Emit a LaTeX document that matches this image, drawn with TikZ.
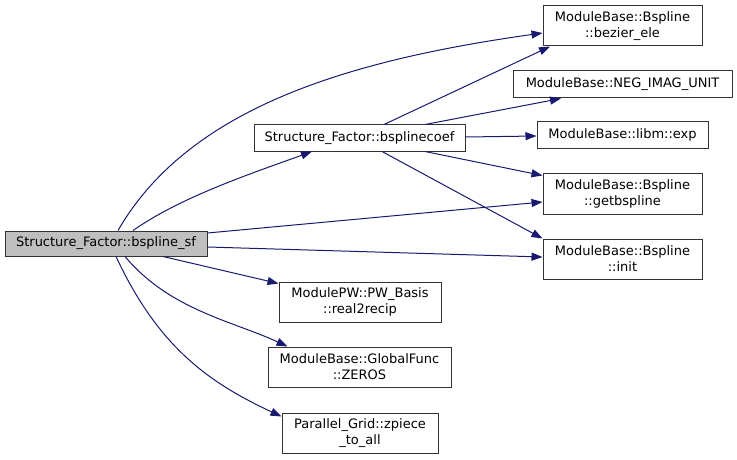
\documentclass[tikz,border=0pt]{standalone}
\usepackage{fontspec}
\setmainfont{DejaVu Sans}
\usetikzlibrary{arrows.meta}
\definecolor{navyline}{HTML}{191970}

\begin{document}
\begin{tikzpicture}[x=1pt, y=1pt,
		fn/.style={draw=black!80, line width=1pt, inner sep=0pt, align=center, font=\fontsize{13}{16}\selectfont},
		root/.style={fn, fill=black!25},
		call/.style={draw=navyline, line width=1pt, -{Triangle[length=11pt,width=8pt]}}]
			%%%%% START %%%%%
			\useasboundingbox (0, 0) rectangle (737, 459);
			
			\node[root, minimum width=202, minimum height=25] (sf) at (106, 215.5) {Structure\_Factor::bspline\_sf};
			\node[fn, minimum width=211, minimum height=26] (coef) at (359.5, 321) {Structure\_Factor::bsplinecoef};
			
			\node[fn, minimum width=159, minimum height=40] (bez) at (622.5, 433) {ModuleBase::Bspline\\::bezier\_ele};
			\node[fn, minimum width=219, minimum height=27] (neg) at (622.5, 374.5) {ModuleBase::NEG\_IMAG\_UNIT};
			\node[fn, minimum width=171, minimum height=26] (exp) at (622.5, 324) {ModuleBase::libm::exp};
			\node[fn, minimum width=159, minimum height=41] (getb) at (622.5, 265.5) {ModuleBase::Bspline\\::getbspline};
			\node[fn, minimum width=159, minimum height=40] (init) at (622.5, 200) {ModuleBase::Bspline\\::init};
			
			\node[fn, minimum width=162, minimum height=40] (r2r) at (360, 157) {ModulePW::PW\_Basis\\::real2recip};
			\node[fn, minimum width=183, minimum height=40] (zeros) at (359.5, 92) {ModuleBase::GlobalFunc\\::ZEROS};
			\node[fn, minimum width=156, minimum height=40] (zpiece) at (360, 26) {Parallel\_Grid::zpiece\\\_to\_all};
			
			% calls of bspline_sf
			\draw[call] ([xshift=12pt]sf.north) .. controls +(60:140) and +(188:200) .. ([yshift=-7pt]bez.west);
			\draw[call] ([xshift=27pt]sf.north) .. controls +(35:60) and +(200:60) .. ([xshift=-47.5pt]coef.south);
			\draw[call] ([yshift=10.5pt]sf.east) -- ([yshift=-8.5pt]getb.west);
			\draw[call] ([yshift=-3.5pt]sf.east) -- ([yshift=2pt]init.west);
			\draw[call] ([xshift=57pt]sf.south) -- ([yshift=-2pt]r2r.north west);
			\draw[call] ([xshift=19pt]sf.south) .. controls +(-50:70) and +(155:60) .. ([xshift=-72pt]zeros.north);
			\draw[call] ([xshift=10pt]sf.south) .. controls +(-65:100) and +(155:80) .. ([yshift=-4pt]zpiece.north west);
			
			% calls of bsplinecoef
			\draw[call] ([xshift=24.5pt]coef.north) -- ([xshift=-72.5pt]bez.south);
			\draw[call] ([xshift=65.5pt]coef.north) -- ([xshift=-61.5pt]neg.south);
			\draw[call] ([yshift=1pt]coef.east) -- ([yshift=-1pt]exp.west);
			\draw[call] ([xshift=65.5pt]coef.south) -- ([yshift=-3pt]getb.north west);
			\draw[call] ([xshift=22.5pt]coef.south) -- (init.north west);
			%%%%% END %%%%%
		\end{tikzpicture}
\end{document}
